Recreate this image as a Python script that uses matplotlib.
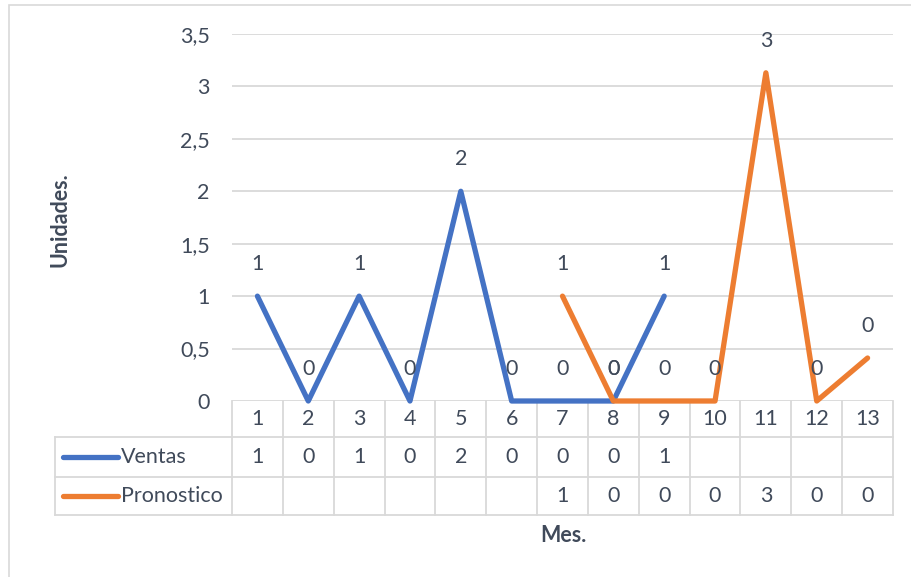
import matplotlib
matplotlib.use('Agg')
import matplotlib.pyplot as plt
from matplotlib.transforms import blended_transform_factory
from matplotlib.patches import Rectangle
from matplotlib.lines import Line2D

# Ventas reales (meses 1-9) y pronostico (meses 7-13)
meses = list(range(1, 14))
mes_ventas = [1, 2, 3, 4, 5, 6, 7, 8, 9]
ventas = [1, 0, 1, 0, 2, 0, 0, 0, 1]
mes_pronostico = [7, 8, 9, 10, 11, 12, 13]
pronostico = [1, 0, 0, 0, 3.13, 0, 0.41]
y_ticks = [0, 0.5, 1, 1.5, 2, 2.5, 3, 3.5]

azul = '#4472C4'
naranja = '#ED7D31'
gris = '#D9D9D9'
texto = '#404A5A'

plt.rcParams['font.family'] = ['Lato', 'DejaVu Sans']
plt.rcParams['font.size'] = 15.5

fig = plt.figure(figsize=(9.11, 5.77), dpi=100)
ax = fig.add_axes([232 / 911, 176 / 577, 661 / 911, 367 / 577])

ax.plot(mes_ventas, ventas, color=azul, lw=3.8, solid_joinstyle='round',
        solid_capstyle='round', zorder=3, clip_on=False)
ax.plot(mes_pronostico, pronostico, color=naranja, lw=3.8, solid_joinstyle='round',
        solid_capstyle='round', zorder=4, clip_on=False)

# etiquetas de datos (redondeadas como en la tabla)
for xs, ys in [(mes_ventas, ventas), (mes_pronostico, pronostico)]:
    for x, v in zip(xs, ys):
        ax.annotate(f'{v:.0f}', (x, v), xytext=(0, 23), textcoords='offset points',
                    ha='center', va='center', color=texto, zorder=5)

ax.set_xlim(0.5, 13.5)
ax.set_ylim(0, 3.5)
ax.set_yticks(y_ticks)
ax.set_yticklabels([f'{t:g}'.replace('.', ',') for t in y_ticks], color=texto)
ax.set_xticks([])
ax.tick_params(axis='y', length=0, pad=16)
ax.grid(axis='y', color=gris, lw=1.3)
ax.set_axisbelow(True)
for s in ax.spines.values():
    s.set_visible(False)

# tabla de datos bajo el eje
trans = blended_transform_factory(ax.transData, ax.transAxes)
h = 367
r0, r1, r2, r3 = 0, -36 / h, -76 / h, -114 / h
izq = (55 - 232) / 661

for yy in (r1, r2, r3):
    ax.add_line(Line2D([izq, 1], [yy, yy], transform=ax.transAxes, color=gris,
                       lw=1.3, clip_on=False))
for k in range(14):
    ax.add_line(Line2D([0.5 + k, 0.5 + k], [r0, r3], transform=trans, color=gris,
                       lw=1.3, clip_on=False))
ax.add_line(Line2D([izq, izq], [r1, r3], transform=ax.transAxes, color=gris,
                   lw=1.3, clip_on=False))

for m in meses:
    ax.text(m, (r0 + r1) / 2, str(m), transform=trans, ha='center', va='center',
            color=texto)
for x, v in zip(mes_ventas, ventas):
    ax.text(x, (r1 + r2) / 2, f'{v:.0f}', transform=trans, ha='center', va='center',
            color=texto)
for x, v in zip(mes_pronostico, pronostico):
    ax.text(x, (r2 + r3) / 2, f'{v:.0f}', transform=trans, ha='center', va='center',
            color=texto)

# claves de leyenda en la primera columna
for yy, nombre, color in [((r1 + r2) / 2, 'Ventas', azul),
                          ((r2 + r3) / 2, 'Pronostico', naranja)]:
    ax.add_line(Line2D([(63 - 232) / 661, (118 - 232) / 661], [yy, yy],
                       transform=ax.transAxes, color=color, lw=3.8,
                       solid_capstyle='round', clip_on=False))
    ax.text((121 - 232) / 661, yy, nombre, transform=ax.transAxes, ha='left',
            va='center', color=texto)

fig.text(60 / 911, 1 - 220 / 577, 'Unidades.', rotation=90, ha='center', va='center',
         fontweight='bold', color=texto)
fig.text(563 / 911, 1 - 535 / 577, 'Mes.', ha='center', va='center',
         fontweight='bold', color=texto)

fig.patches.append(Rectangle((9 / 911, -0.05), 1.05, 1.05 - 5 / 577, fill=False,
                             edgecolor=gris, lw=1.2, transform=fig.transFigure))

fig.savefig('out.png', dpi=100, facecolor='white')
